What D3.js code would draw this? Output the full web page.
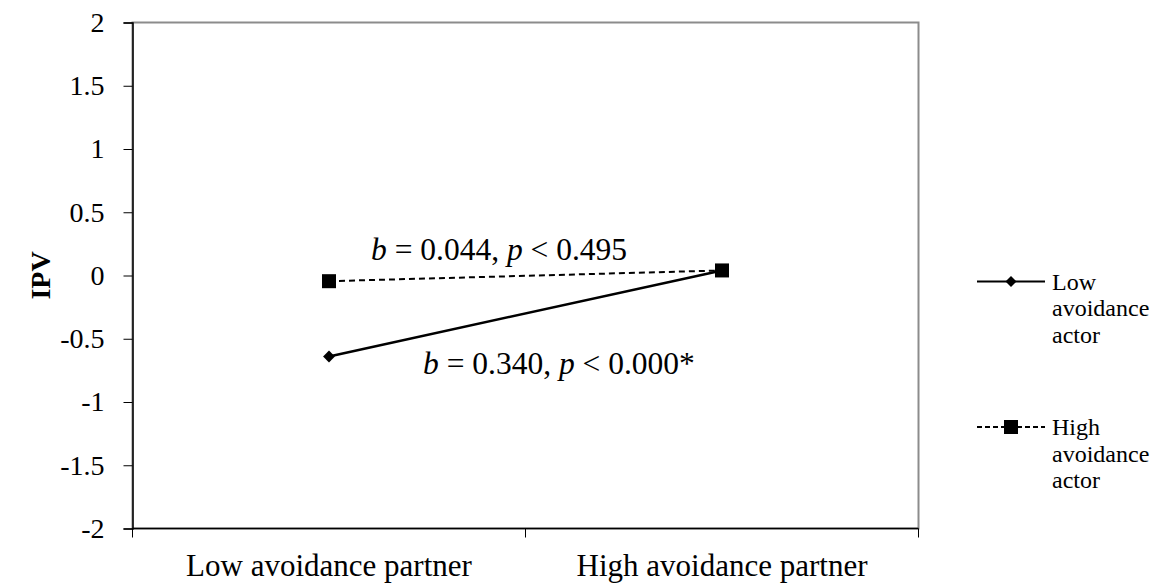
<!DOCTYPE html>
<html>
<head>
<meta charset="utf-8">
<script src="https://cdn.jsdelivr.net/npm/d3@7"></script>
<style>
  body { margin: 0; background: #fff; }
  svg text { font-family: "Liberation Serif", "Times New Roman", "DejaVu Serif", serif; }
</style>
</head>
<body>
<svg id="chart" width="1157" height="583"></svg>
<script>
// categories + series values
const categories = ["Low avoidance partner", "High avoidance partner"];
const lowActor = [-0.64, 0.04];
const highActor = [-0.045, 0.04];
const yTicks = [-2, -1.5, -1, -0.5, 0, 0.5, 1, 1.5, 2];
const seriesNames = [["Low", "avoidance", "actor"], ["High", "avoidance", "actor"]];
const notes = [
  { b: "0.044", p: "0.495", star: "" },
  { b: "0.340", p: "0.000", star: "*" }
];

const margin = { top: 22.5, left: 132.5, right: 918.5, bottom: 528.5 };
const serif = "Liberation Serif, Times New Roman, serif";

const svg = d3.select("#chart");

const x = d3.scalePoint()
  .domain(categories)
  .range([margin.left, margin.right])
  .padding(0.5);

const y = d3.scaleLinear()
  .domain([-2, 2])
  .range([margin.bottom, margin.top]);

// plot frame (grey top/right like the excel export)
svg.append("rect")
  .attr("x", margin.left)
  .attr("y", margin.top)
  .attr("width", margin.right - margin.left)
  .attr("height", margin.bottom - margin.top)
  .attr("fill", "none")
  .attr("stroke", "#8c8c8c")
  .attr("stroke-width", 2);

// y axis
const yAxis = d3.axisLeft(y).tickValues(yTicks).tickSize(9);
const yg = svg.append("g")
  .attr("transform", `translate(${margin.left},0)`)
  .attr("font-family", serif)
  .call(yAxis);
yg.select(".domain").attr("stroke", "#000").attr("stroke-width", 1.5);
yg.selectAll(".tick line").attr("stroke", "#000");
yg.selectAll(".tick text")
  .attr("font-size", 28)
  .attr("fill", "#000")
  .attr("x", -28)
  .text(d => String(d));

// x axis, ticks between categories
const xBounds = [margin.left, (margin.left + margin.right) / 2, margin.right];
svg.append("line")
  .attr("x1", margin.left).attr("x2", margin.right)
  .attr("y1", margin.bottom).attr("y2", margin.bottom)
  .attr("stroke", "#000").attr("stroke-width", 1.5);
svg.selectAll(".xtick")
  .data(xBounds)
  .enter()
  .append("line")
  .attr("x1", d => d).attr("x2", d => d)
  .attr("y1", margin.bottom).attr("y2", margin.bottom + 9)
  .attr("stroke", "#000");
svg.selectAll(".xlab")
  .data(categories)
  .enter()
  .append("text")
  .attr("x", d => x(d))
  .attr("y", margin.bottom + 47.5)
  .attr("text-anchor", "middle")
  .attr("font-size", 31)
  .text(d => d);

// y title
svg.append("text")
  .attr("transform", `translate(50,${y(0)}) rotate(-90)`)
  .attr("text-anchor", "middle")
  .attr("font-size", 28)
  .attr("font-weight", "bold")
  .text("IPV");

// lines
const line = d3.line()
  .x((d, i) => x(categories[i]))
  .y(d => y(d));

svg.append("path")
  .datum(highActor)
  .attr("d", line)
  .attr("fill", "none")
  .attr("stroke", "#000")
  .attr("stroke-width", 2)
  .attr("stroke-dasharray", "6,4");

svg.append("path")
  .datum(lowActor)
  .attr("d", line)
  .attr("fill", "none")
  .attr("stroke", "#000")
  .attr("stroke-width", 2.5);

const square = 14;

svg.selectAll(".dia")
  .data(lowActor)
  .enter()
  .append("path")
  .attr("d", d3.symbol().type(d3.symbolSquare).size(70))
  .attr("transform", (d, i) => `translate(${x(categories[i])},${y(d)}) rotate(45)`)
  .attr("fill", "#000");

svg.selectAll(".sq")
  .data(highActor)
  .enter()
  .append("rect")
  .attr("x", (d, i) => x(categories[i]) - square / 2)
  .attr("y", d => y(d) - square / 2)
  .attr("width", square)
  .attr("height", square)
  .attr("fill", "#000");

// annotations
function note(g, n, tx, ty) {
  const t = g.append("text").attr("x", tx).attr("y", ty).attr("font-size", 31.5);
  t.append("tspan").attr("font-style", "italic").text("b");
  t.append("tspan").text(` = ${n.b}, `);
  t.append("tspan").attr("font-style", "italic").text("p");
  t.append("tspan").text(` < ${n.p}${n.star}`);
}
note(svg, notes[0], 371, 260);
note(svg, notes[1], 423, 374);

// legend
const legY = [281.5, 427];
const lg = svg.append("g");
legY.forEach((ly, i) => {
  lg.append("line")
    .attr("x1", 977).attr("x2", 1045)
    .attr("y1", ly).attr("y2", ly)
    .attr("stroke", "#000")
    .attr("stroke-width", 2)
    .attr("stroke-dasharray", i === 1 ? "5,3" : null);
  if (i === 0) {
    lg.append("path")
      .attr("d", d3.symbol().type(d3.symbolSquare).size(60))
      .attr("transform", `translate(1011,${ly}) rotate(45)`)
      .attr("fill", "#000");
  } else {
    lg.append("rect")
      .attr("x", 1011 - 7).attr("y", ly - 7)
      .attr("width", 14).attr("height", 14)
      .attr("fill", "#000");
  }
  seriesNames[i].forEach((w, k) => {
    lg.append("text")
      .attr("x", 1052)
      .attr("y", ly + 8 + k * 26.5)
      .attr("font-size", 24)
      .text(w);
  });
});
</script>
</body>
</html>
